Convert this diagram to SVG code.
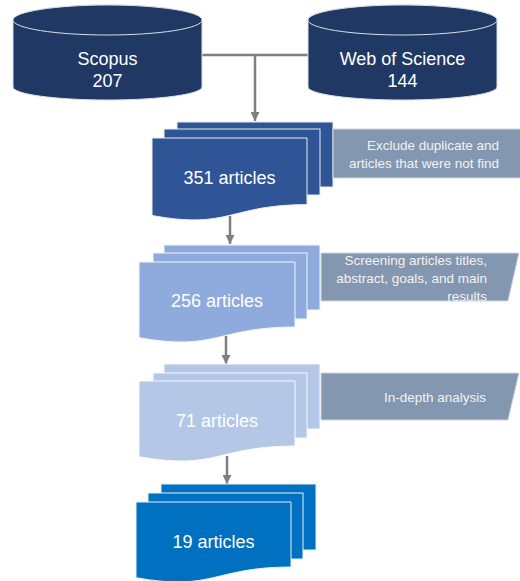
<svg xmlns="http://www.w3.org/2000/svg" width="520" height="581" viewBox="0 0 520 581">
<style>
.cyl{fill:#203864;stroke:#D9DEE8;stroke-width:1}
.s1{fill:#2F5597;stroke:#E8ECF4;stroke-width:1}
.s2{fill:#8FAADC;stroke:#F2F5FA;stroke-width:1}
.s3{fill:#B4C7E7;stroke:#F7F9FC;stroke-width:1}
.s4{fill:#0070C0;stroke:#E8F0F8;stroke-width:1}
.lbl{fill:#8497B0;stroke:#D0D7E2;stroke-width:1}
.t{font-family:"Liberation Sans",Arial,sans-serif;fill:#FFFFFF;text-anchor:middle}
.big{font-size:18px}
.small{font-size:13.5px;fill:#F2F2F2;text-anchor:end}
.con{stroke:#7F7F7F;stroke-width:2.5;fill:none}
</style>
<defs>
<marker id="ah" viewBox="0 0 10 10" refX="10" refY="5" markerWidth="4" markerHeight="3.6" markerUnits="strokeWidth" orient="auto">
<path d="M0,0 L10,5 L0,10 Z" fill="#7F7F7F"/>
</marker>
</defs>
<g id="connectors">
<path class="con" d="M202,55 H308"/>
<path class="con" d="M255,55 V121" marker-end="url(#ah)"/>
<path class="con" d="M230,216 V244" marker-end="url(#ah)"/>
<path class="con" d="M226,336 V364" marker-end="url(#ah)"/>
<path class="con" d="M227,456 V484" marker-end="url(#ah)"/>
</g>
<g id="scopus">
<path class="cyl" d="M13,20 V87 A94.5,13 0 0 0 202,87 V20 A94.5,15 0 0 0 13,20 Z"/>
<ellipse class="cyl" cx="107.5" cy="20" rx="94.5" ry="15"/>
<text class="t big" x="107.5" y="65">Scopus</text>
<text class="t big" x="107.5" y="87">207</text>
</g>
<g id="wos">
<path class="cyl" d="M308,20 V87 A94.5,13 0 0 0 497,87 V20 A94.5,15 0 0 0 308,20 Z"/>
<ellipse class="cyl" cx="402.5" cy="20" rx="94.5" ry="15"/>
<text class="t big" x="402.5" y="65">Web of Science</text>
<text class="t big" x="402.5" y="87">144</text>
</g>
<g id="stack351">
<rect class="s1" x="177" y="122" width="156" height="65"/>
<rect class="s1" x="164" y="129" width="156" height="66"/>
<path class="s1" d="M152,138 H307 V204.6 C229.5,204.6 229.5,229.9 152,215.5 Z"/>
<text class="t big" x="229.5" y="184">351 articles</text>
</g>
<g id="label1">
<rect class="lbl" x="333" y="129" width="188" height="49"/>
<text class="t small" x="499" y="150">Exclude duplicate and</text>
<text class="t small" x="499" y="168">articles that were not find</text>
</g>
<g id="stack256">
<rect class="s2" x="164" y="245" width="156" height="65"/>
<rect class="s2" x="153" y="253" width="154" height="66"/>
<path class="s2" d="M139,262 H295 V327 C217,327 217,351.7 139,337.7 Z"/>
<text class="t big" x="217" y="307">256 articles</text>
</g>
<g id="label2">
<path class="lbl" d="M321,253 H519 L508,301 H321 Z"/>
<text class="t small" x="487" y="265">Screening articles titles,</text>
<text class="t small" x="487" y="283">abstract, goals, and main</text>
<text class="t small" x="487" y="301">results</text>
</g>
<g id="stack71">
<rect class="s3" x="164" y="364" width="156" height="65"/>
<rect class="s3" x="153" y="373" width="154" height="65"/>
<path class="s3" d="M139,381 H295 V446 C217,446 217,470.7 139,456.7 Z"/>
<text class="t big" x="217" y="427">71 articles</text>
</g>
<g id="label3">
<path class="lbl" d="M321,373 H519 L508,420 H321 Z"/>
<text class="t small" x="486" y="402">In-depth analysis</text>
</g>
<g id="stack19">
<rect class="s4" x="161" y="484" width="155" height="66"/>
<rect class="s4" x="148" y="493" width="155" height="66"/>
<path class="s4" d="M136,502 H291 V567 C213.5,567 213.5,591.7 136,577.7 Z"/>
<text class="t big" x="213.5" y="548">19 articles</text>
</g>
</svg>
